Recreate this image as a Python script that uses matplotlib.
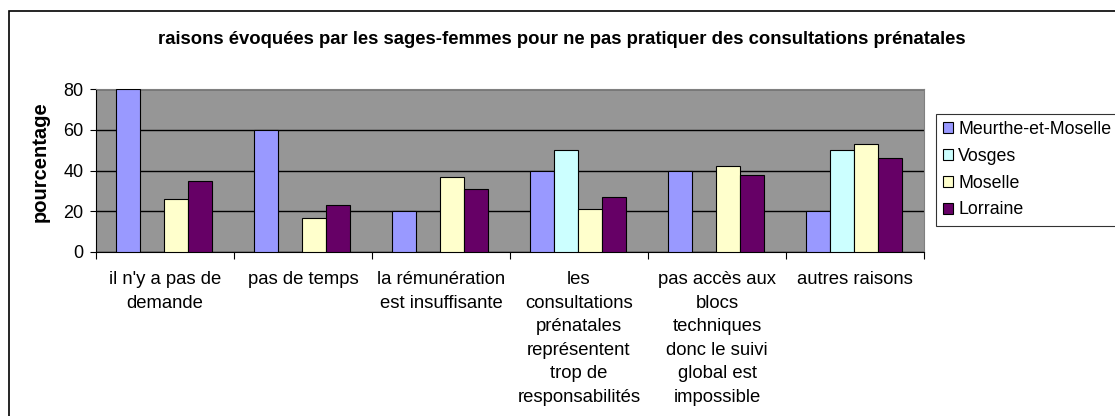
import numpy as np
import matplotlib.pyplot as plt
from matplotlib.patches import Rectangle

plt.rcParams['font.family'] = ['Liberation Sans', 'DejaVu Sans']

# données
categories = ["il n'y a pas de\ndemande", "pas de temps", "la rémunération\nest insuffisante",
              "les\nconsultations\nprénatales\nreprésentent\ntrop de\nresponsabilités",
              "pas accès aux\nblocs\ntechniques\ndonc le suivi\nglobal est\nimpossible",
              "autres raisons"]
series = ['Meurthe-et-Moselle', 'Vosges', 'Moselle', 'Lorraine']
meurthe = [80, 60, 20, 40, 40, 20]
vosges = [0, 0, 0, 50, 0, 50]
moselle = [26, 16.5, 37, 21, 42, 53]
lorraine = [35, 23, 31, 27, 38, 46]
colors = ['#9999FF', '#CCFFFF', '#FFFFCC', '#660066']

fig = plt.figure(figsize=(11.15, 4.16), dpi=100)
ax = fig.add_axes([96/1115, 1 - 252/416, 828/1115, 163/416])
ax.set_facecolor('#969696')

x = np.arange(len(categories)) + 0.5
w = 0.174
for k, (name, vals) in enumerate(zip(series, [meurthe, vosges, moselle, lorraine])):
    ax.bar(x + (k - 1.5) * w - 0.01, vals, width=w, color=colors[k], edgecolor='black',
           linewidth=0.8, label=name, zorder=3)

ax.set_xlim(0, 6)
ax.set_ylim(0, 80)
ax.set_yticks([0, 20, 40, 60, 80])
ax.yaxis.grid(True, color='black', linewidth=1, zorder=1)
ax.set_axisbelow(True)
ax.tick_params(axis='y', labelsize=13, length=4, direction='out', pad=5)

ax.set_xticks(np.arange(7), minor=False)
ax.set_xticklabels([])
ax.tick_params(axis='x', which='major', length=5, direction='out')
ax.set_xticks(x, minor=True)
ax.set_xticklabels(categories, minor=True, fontsize=13.3, linespacing=1.5, va='top')
ax.tick_params(axis='x', which='minor', length=0, pad=14)

for s in ['top', 'right']:
    ax.spines[s].set_color('#808080')
for s in ['left', 'bottom']:
    ax.spines[s].set_color('black')

fig.text(40/1115, 1 - 162/416, 'pourcentage', rotation=90, ha='center', va='center',
         fontsize=14.5, fontweight='bold')
fig.text(562/1115, 1 - 40/416, 'raisons évoquées par les sages-femmes pour ne pas pratiquer des consultations prénatales',
         ha='center', va='center', fontsize=13.3, fontweight='bold')

leg = fig.legend(loc='upper left', bbox_to_anchor=(936/1115, 1 - 114/416), fontsize=12.8,
                 handlelength=0.55, handleheight=0.55, handletextpad=0.3, labelspacing=0.55,
                 frameon=True, fancybox=False, borderpad=0.4, borderaxespad=0)
leg.get_frame().set_edgecolor('black')
leg.get_frame().set_linewidth(0.8)

# cadre extérieur
fig.patches.append(Rectangle((9/1115, -0.1), 1.2, 1 - 11/416 + 0.1, transform=fig.transFigure,
                             fill=False, edgecolor='black', linewidth=1.2))

fig.savefig('out.png', dpi=100)
